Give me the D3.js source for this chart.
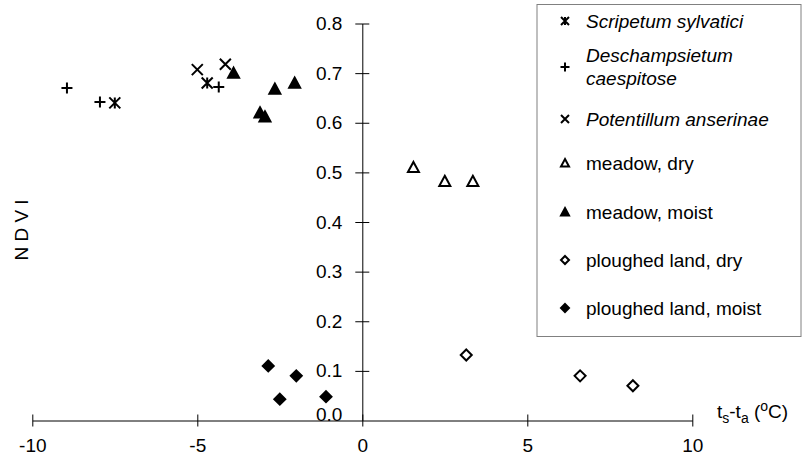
<!DOCTYPE html>
<meta charset="utf-8">
<script src="https://d3js.org/d3.v7.min.js"></script>
<style>
  body { margin: 0; background: #fff; }
  text { font-family: "Liberation Sans", Arial, sans-serif; }
</style>
<div id="chart"></div>
<script>
// Data: [ts-ta (oC), NDVI]
var scripetum = [[-7.5, 0.640], [-4.7, 0.680]];
var deschampsietum = [[-8.95, 0.670], [-7.95, 0.642], [-4.35, 0.672]];
var potentillum = [[-5.0, 0.707], [-4.15, 0.718]];
var meadowDry = [[1.55, 0.510], [2.5, 0.482], [3.35, 0.482]];
var meadowMoist = [[-3.9, 0.700], [-2.65, 0.668], [-2.05, 0.680], [-3.1, 0.620], [-2.95, 0.612]];
var ploughedDry = [[3.15, 0.132], [6.6, 0.090], [8.2, 0.070]];
var ploughedMoist = [[-2.85, 0.110], [-2.0, 0.090], [-2.5, 0.043], [-1.1, 0.048]];

var xTicks = [-10, -5, 0, 5, 10];
var yTicks = [0, 0.1, 0.2, 0.3, 0.4, 0.5, 0.6, 0.7, 0.8];

var series = [
  {name: ["Scripetum sylvatici"], italic: true, marker: "star", data: scripetum},
  {name: ["Deschampsietum", "caespitose"], italic: true, marker: "plus", data: deschampsietum},
  {name: ["Potentillum anserinae"], italic: true, marker: "cross", data: potentillum},
  {name: ["meadow, dry"], italic: false, marker: "triOpen", data: meadowDry},
  {name: ["meadow, moist"], italic: false, marker: "triFill", data: meadowMoist},
  {name: ["ploughed land, dry"], italic: false, marker: "diaOpen", data: ploughedDry},
  {name: ["ploughed land, moist"], italic: false, marker: "diaFill", data: ploughedMoist}
];

var width = 804, height = 457;
var svg = d3.select("#chart").append("svg")
  .attr("width", width)
  .attr("height", height);

var x = d3.scaleLinear().domain([-10, 10]).range([32.3, 692.3]);
var y = d3.scaleLinear().domain([0, 0.8]).range([420.5, 23.5]);

// marker path generator, s = half size
function markerPath(type, s) {
  var p = d3.path();
  if (type === "plus") {
    p.moveTo(-s, 0); p.lineTo(s, 0);
    p.moveTo(0, -s); p.lineTo(0, s);
  } else if (type === "cross") {
    p.moveTo(-s, -s); p.lineTo(s, s);
    p.moveTo(s, -s); p.lineTo(-s, s);
  } else if (type === "star") {
    p.moveTo(-s, -s); p.lineTo(s, s);
    p.moveTo(s, -s); p.lineTo(-s, s);
    p.moveTo(0, -s); p.lineTo(0, s);
  } else if (type === "triOpen" || type === "triFill") {
    p.moveTo(0, -s); p.lineTo(s, s * 0.85); p.lineTo(-s, s * 0.85); p.closePath();
  } else {
    p.moveTo(0, -s); p.lineTo(s, 0); p.lineTo(0, s); p.lineTo(-s, 0); p.closePath();
  }
  return p.toString();
}

function styleMarker(sel, type, sw) {
  var filled = (type === "triFill" || type === "diaFill");
  var open = (type === "triOpen" || type === "diaOpen");
  sel.attr("fill", filled ? "#000" : (open ? "#fff" : "none"))
    .attr("stroke", "#000")
    .attr("stroke-width", sw)
    .attr("stroke-linejoin", "miter");
}

// X axis
var xAxis = svg.append("g")
  .attr("transform", "translate(0," + y(0) + ")")
  .call(d3.axisBottom(x).tickValues(xTicks).tickFormat(function(d) { return String(d); })
    .tickSize(6).tickPadding(12).tickSizeOuter(0));
xAxis.selectAll(".tick line").attr("y1", -6).attr("y2", 6);
xAxis.selectAll("text").style("font-size", "19px").attr("fill", "#000");
xAxis.select(".domain").attr("stroke", "#000");

// Y axis
var yAxis = svg.append("g")
  .attr("transform", "translate(" + x(0) + ",0)")
  .call(d3.axisLeft(y).tickValues(yTicks).tickFormat(d3.format(".1f")).tickSize(7).tickPadding(13).tickSizeOuter(0));
yAxis.selectAll(".tick line").attr("x1", -7).attr("x2", 7);
yAxis.selectAll(".tick").filter(function(d) { return d === 0; }).select("line").remove();
yAxis.selectAll("text").style("font-size", "19px").attr("fill", "#000");
yAxis.selectAll(".tick").filter(function(d) { return d === 0; }).select("text").attr("dy", "0.02em");
yAxis.select(".domain").attr("stroke", "#000");

// axis titles
var xt = svg.append("text")
  .attr("x", 717).attr("y", 418)
  .style("font-size", "19px")
  .attr("fill", "#000");
xt.append("tspan").text("t");
xt.append("tspan").text("s").style("font-size", "14px").attr("dy", 5);
xt.append("tspan").text("-t").attr("dy", -5);
xt.append("tspan").text("a").style("font-size", "14px").attr("dy", 5);
xt.append("tspan").text(" (").attr("dy", -5);
xt.append("tspan").text("o").style("font-size", "14px").attr("dy", -7);
xt.append("tspan").text("C)").attr("dy", 7);

svg.append("text")
  .attr("transform", "translate(28,230) rotate(-90)")
  .attr("text-anchor", "middle")
  .style("font-size", "19px")
  .attr("fill", "#000")
  .text("N D V I");

// points
var plot = svg.append("g");
series.forEach(function(s) {
  var size = s.marker === "plus" ? 5.5 : 5.5;
  plot.selectAll(null)
    .data(s.data)
    .enter().append("path")
    .attr("transform", function(d) { return "translate(" + x(d[0]) + "," + y(d[1]) + ")"; })
    .attr("d", markerPath(s.marker, size))
    .call(styleMarker, s.marker, 2);
});

// legend
var legend = svg.append("g");
legend.append("rect")
  .attr("x", 537).attr("y", 4.5)
  .attr("width", 264).attr("height", 332)
  .attr("fill", "#fff")
  .attr("stroke", "#808080")
  .attr("stroke-width", 1);

var legendY = [21, 67, 119, 163, 212, 260, 308];
series.forEach(function(s, i) {
  var cy = legendY[i];
  legend.append("path")
    .attr("transform", "translate(565," + cy + ")")
    .attr("d", markerPath(s.marker, s.marker === "plus" ? 4.5 : 4))
    .call(styleMarker, s.marker, 2);
  var t = legend.append("text")
    .attr("x", 586)
    .attr("y", s.name.length === 1 ? cy : cy - 12)
    .style("font-size", "19px")
    .style("font-style", s.italic ? "italic" : "normal")
    .attr("fill", "#000");
  s.name.forEach(function(line, j) {
    t.append("tspan").attr("x", 586).attr("dy", j === 0 ? "0.35em" : 23).text(line);
  });
});
</script>
